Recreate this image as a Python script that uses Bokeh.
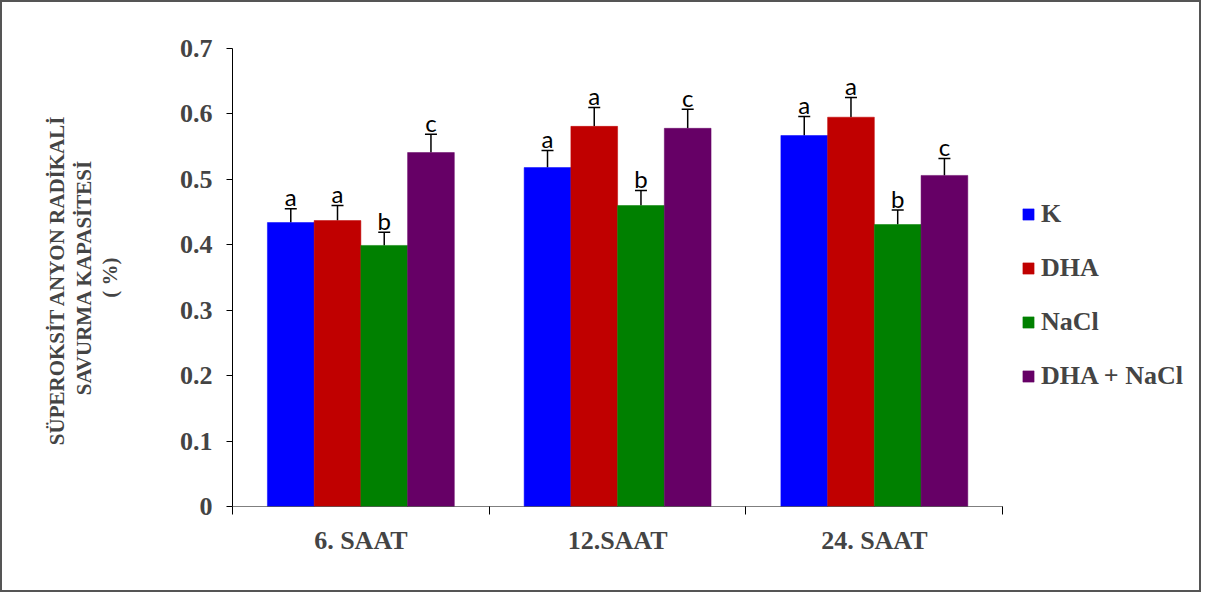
from bokeh.plotting import figure
from bokeh.models import (ColumnDataSource, FixedTicker, Whisker, TeeHead, Legend, LegendItem, Range1d)
from bokeh.core.properties import value
from bokeh.embed import file_html
from bokeh.resources import INLINE

categories = ["6. SAAT", "12.SAAT", "24. SAAT"]
series = ["K", "DHA", "NaCl", "DHA + NaCl"]
colors = ["#0000FF", "#C00000", "#008000", "#660066"]
K = [0.434, 0.518, 0.567]
DHA = [0.437, 0.581, 0.595]
NaCl = [0.399, 0.460, 0.431]
DHA_NaCl = [0.541, 0.578, 0.506]
K_err = [0.021, 0.026, 0.029]
DHA_err = [0.023, 0.029, 0.030]
NaCl_err = [0.020, 0.023, 0.022]
DHA_NaCl_err = [0.028, 0.029, 0.026]
letters = {"K": ["a", "a", "a"], "DHA": ["a", "a", "a"], "NaCl": ["b", "b", "b"], "DHA + NaCl": ["c", "c", "c"]}
y_ticks = [0, 0.1, 0.2, 0.3, 0.4, 0.5, 0.6, 0.7]

vals = [K, DHA, NaCl, DHA_NaCl]
errs = [K_err, DHA_err, NaCl_err, DHA_NaCl_err]

n = len(categories)
bar_w = 0.182
offsets = [-1.5 * bar_w, -0.5 * bar_w, 0.5 * bar_w, 1.5 * bar_w]

FIG_W, FIG_H = 1201, 592
LEFT, RIGHT = 230, 10
axis_px = 767  # pixel width of the category axis
frame_px = FIG_W - LEFT - RIGHT - 4
x_end = n * frame_px / axis_px

p = figure(width=FIG_W, height=FIG_H, output_backend="svg", toolbar_location=None,
           x_range=Range1d(0, x_end), y_range=Range1d(0, 0.7),
           min_border_left=LEFT, min_border_right=RIGHT, min_border_top=46, min_border_bottom=88)
p.styles = {"border": "2px solid #555555", "box-sizing": "border-box"}
p.grid.visible = False
p.outline_line_color = None

serif = "Liberation Serif"
items = []
for s, c, v, e, off in zip(series, colors, vals, errs, offsets):
    xs = [i + 0.5 + off for i in range(n)]
    hi = [a + b for a, b in zip(v, e)]
    src = ColumnDataSource(dict(x=xs, top=v, hi=hi, lab=letters[s]))
    r = p.vbar(x="x", top="top", width=bar_w, bottom=0, source=src, fill_color=c, line_color=c, line_width=0.5)
    items.append(LegendItem(label=s, renderers=[r]))
    w = Whisker(base="x", lower="top", upper="hi", source=src, dimension="height",
                line_color="black", line_width=1.5,
                upper_head=TeeHead(size=12, line_color="black", line_width=1.5), lower_head=None)
    p.add_layout(w)
    p.text(x="x", y="hi", text="lab", source=src, text_align="center", text_baseline="alphabetic",
           y_offset=-12, text_font=value("Lato"), text_font_size="24px", text_color="black")

# x axis baseline limited to the category span
p.segment(x0=[0], y0=[0], x1=[n], y1=[0], line_color="black", line_width=1)

# axes
p.yaxis.ticker = FixedTicker(ticks=y_ticks)
p.yaxis.major_label_overrides = {0: "0"}
p.yaxis.major_tick_out = 6
p.yaxis.major_tick_in = 0
p.yaxis.minor_tick_line_color = None
p.yaxis.major_label_standoff = 14
p.yaxis.major_label_text_font = serif
p.yaxis.major_label_text_font_style = "bold"
p.yaxis.major_label_text_font_size = "26px"
p.yaxis.axis_line_color = "black"
p.yaxis.axis_label = "SÜPEROKSİT  ANYON RADİKALİ\nSAVURMA KAPASİTESİ\n( %)"
p.yaxis.axis_label_text_font = serif
p.yaxis.axis_label_text_font_style = "bold"
p.yaxis.axis_label_text_font_size = "21px"
p.yaxis.axis_label_text_line_height = 1.1
p.yaxis.axis_label_standoff = 55

p.xaxis.ticker = FixedTicker(ticks=[i + 0.5 for i in range(n)], minor_ticks=list(range(n + 1)))
p.xaxis.major_label_overrides = {i + 0.5: c for i, c in enumerate(categories)}
p.xaxis.major_tick_line_color = None
p.xaxis.minor_tick_out = 8
p.xaxis.minor_tick_in = 0
p.xaxis.minor_tick_line_color = "black"
p.xaxis.major_label_standoff = 11
p.xaxis.major_label_text_font = serif
p.xaxis.major_label_text_font_style = "bold"
p.xaxis.major_label_text_font_size = "26px"
p.xaxis.axis_line_color = None

legend = Legend(items=items, location=(789, 115), orientation="vertical",
                padding=0, margin=0, border_line_color=None, background_fill_alpha=0,
                glyph_width=14, glyph_height=14, label_height=30, spacing=24, label_standoff=6,
                label_text_font=serif, label_text_font_style="bold", label_text_font_size="26px")
p.add_layout(legend, "center")

open("out.html", "w").write(file_html(p, INLINE))
